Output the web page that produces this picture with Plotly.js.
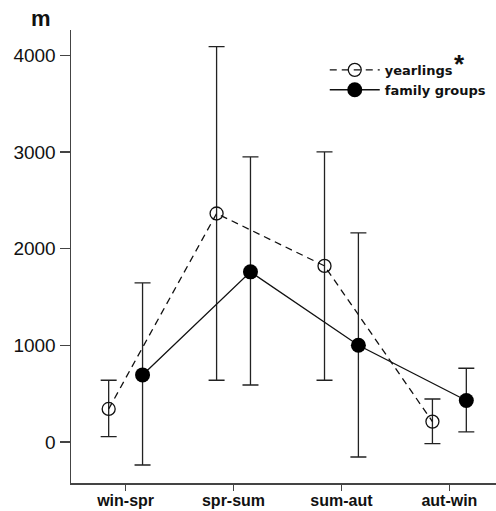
<!DOCTYPE html>
<html>
<head>
<meta charset="utf-8">
<script src="https://cdn.plot.ly/plotly-3.0.1.min.js"></script>
<style>html,body{margin:0;padding:0;background:#fff;}#chart{width:496px;height:511px;}</style>
</head>
<body>
<div id="chart"></div>
<script>
// Data
const categories = ["win-spr", "spr-sum", "sum-aut", "aut-win"];
const yearlingsMean  = [342, 2364, 1822, 211];
const yearlingsUpper = [639, 4089, 3002, 445];
const yearlingsLower = [56, 639, 639, -17];
const familyMean  = [694, 1760, 1001, 429];
const familyUpper = [1646, 2950, 2164, 763];
const familyLower = [-238, 590, -155, 104];
const yTickVals = [0, 1000, 2000, 3000, 4000];

const offset = 0.157;
const idx = categories.map((c, i) => i);

const yearlings = {
  name: "yearlings",
  type: "scatter",
  mode: "lines+markers",
  x: idx.map(i => i - offset),
  y: yearlingsMean,
  line: {color: "#111", width: 1.3, dash: "7px,5px"},
  marker: {symbol: "circle-open", size: 13, color: "#111", line: {width: 1.3, color: "#111"}},
  error_y: {type: "data", symmetric: false,
    array: yearlingsMean.map((m, i) => yearlingsUpper[i] - m),
    arrayminus: yearlingsMean.map((m, i) => m - yearlingsLower[i]),
    color: "#222", thickness: 1.3, width: 8}
};
const family = {
  name: "family groups",
  type: "scatter",
  mode: "lines+markers",
  x: idx.map(i => i + offset),
  y: familyMean,
  line: {color: "#111", width: 1.3},
  marker: {symbol: "circle", size: 15, color: "#000"},
  error_y: {type: "data", symmetric: false,
    array: familyMean.map((m, i) => familyUpper[i] - m),
    arrayminus: familyMean.map((m, i) => m - familyLower[i]),
    color: "#222", thickness: 1.3, width: 8}
};

const layout = {
  width: 496, height: 511,
  margin: {l: 71, r: 0, t: 30, b: 28},
  paper_bgcolor: "#fff", plot_bgcolor: "#fff",
  font: {family: "Liberation Sans, Arial, sans-serif", color: "#111"},
  xaxis: {
    range: [-0.506, 3.432], tickvals: idx, ticktext: categories,
    showgrid: false, zeroline: false, showline: true, linecolor: "#444", linewidth: 1.5,
    ticks: "outside", ticklen: 6, tickwidth: 1.5, tickcolor: "#444",
    ticklabelstandoff: -4,
    tickfont: {family: "Liberation Sans, Arial, sans-serif", size: 16, weight: "bold", color: "#111"}
  },
  yaxis: {
    range: [-424, 4262], tickvals: yTickVals,
    showgrid: false, zeroline: false, showline: true, linecolor: "#444", linewidth: 1.5,
    ticks: "outside", ticklen: 10, tickwidth: 1.5, tickcolor: "#444",
    tickfont: {family: "Liberation Sans, Arial, sans-serif", size: 19, color: "#111"}
  },
  showlegend: true,
  legend: {
    x: 0.99, y: 0.945, xanchor: "right", yanchor: "top",
    bgcolor: "rgba(0,0,0,0)", borderwidth: 0, itemwidth: 50,
    font: {family: "DejaVu Sans, Verdana, sans-serif", size: 13, weight: "bold", color: "#111"},
    tracegroupgap: 0
  },
  annotations: [
    {text: "<b>m</b>", xref: "paper", yref: "paper", x: 0, y: 1, xshift: -30, yshift: 12,
     xanchor: "center", yanchor: "middle", showarrow: false,
     font: {family: "Liberation Sans, Arial, sans-serif", size: 22, color: "#111"}},
    {text: "<b>*</b>", xref: "paper", yref: "paper", x: 1, y: 1, xshift: -37, yshift: -34,
     xanchor: "center", yanchor: "middle", showarrow: false,
     font: {family: "Liberation Sans, Arial, sans-serif", size: 26, color: "#111"}}
  ]
};

Plotly.newPlot("chart", [yearlings, family], layout, {displayModeBar: false, staticPlot: true});
</script>
</body>
</html>
